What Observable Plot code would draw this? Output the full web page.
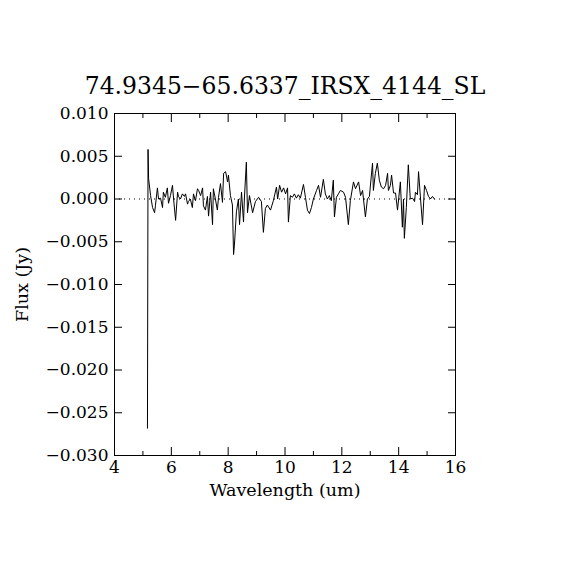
<!DOCTYPE html>
<html>
<head>
<meta charset="utf-8">
<script src="https://cdn.jsdelivr.net/npm/d3@7"></script>
<script src="https://cdn.jsdelivr.net/npm/@observablehq/plot@0.6"></script>
<style>
  html, body { margin: 0; padding: 0; background: white; }
</style>
</head>
<body>
<div id="chart"></div>
<script>
const titleText = "74.9345\u221265.6337_IRSX_4144_SL";
const xLabel = "Wavelength (um)";
const yLabel = "Flux (Jy)";

const xMajorTicks = [4, 6, 8, 10, 12, 14, 16];
const xMinorTicks = [5, 7, 9, 11, 13, 15];
const yTicks = [0.010, 0.005, 0.000, -0.005, -0.010, -0.015, -0.020, -0.025, -0.030];

const wavelength = [
  5.16, 5.18, 5.20, 5.27, 5.34, 5.41, 5.44, 5.51, 5.55, 5.62,
  5.69, 5.72, 5.79, 5.86, 5.90, 5.97, 6.04, 6.08, 6.15, 6.22,
  6.25, 6.32, 6.39, 6.46, 6.50, 6.57, 6.60, 6.67, 6.74, 6.78,
  6.85, 6.92, 6.96, 7.03, 7.10, 7.13, 7.20, 7.27, 7.31, 7.38,
  7.45, 7.48, 7.55, 7.62, 7.66, 7.73, 7.80, 7.84, 7.91, 7.98,
  8.01, 8.08, 8.15, 8.19, 8.22, 8.29, 8.36, 8.40, 8.47, 8.54,
  8.57, 8.64, 8.68, 8.75, 8.86, 8.96, 9.07, 9.17, 9.24, 9.31,
  9.38, 9.49, 9.59, 9.70, 9.74, 9.81, 9.88, 9.95, 10.02, 10.09,
  10.12, 10.19, 10.26, 10.33, 10.40, 10.47, 10.54, 10.65, 10.72, 10.79,
  10.86, 10.93, 11.00, 11.11, 11.18, 11.25, 11.35, 11.42, 11.49, 11.56,
  11.63, 11.70, 11.74, 11.81, 11.88, 11.95, 12.06, 12.13, 12.23, 12.30,
  12.41, 12.48, 12.59, 12.66, 12.73, 12.83, 12.90, 12.97, 13.08, 13.11,
  13.18, 13.25, 13.32, 13.39, 13.47, 13.54, 13.61, 13.64, 13.71, 13.75,
  13.82, 13.89, 13.96, 14.06, 14.13, 14.17, 14.20, 14.27, 14.34, 14.41,
  14.49, 14.56, 14.59, 14.66, 14.70, 14.77, 14.84, 14.91, 14.98, 15.05,
  15.12, 15.19, 15.26
];

const flux = [
  -0.0268, 0.0058, 0.0024, 0.0004, -0.0010, -0.0016, -0.0008, 0.0013, 0.0000, 0.0001,
  -0.0010, 0.0008, 0.0002, 0.0013, -0.0005, 0.0004, 0.0016, 0.0000, -0.0025, 0.0008,
  0.0003, 0.0000, 0.0006, 0.0003, 0.0006, -0.0006, -0.0003, 0.0000, -0.0010, 0.0006,
  -0.0002, 0.0012, 0.0010, 0.0004, 0.0013, -0.0008, -0.0013, 0.0003, -0.0020, 0.0008,
  -0.0030, 0.0012, 0.0000, -0.0013, 0.0002, 0.0018, -0.0004, 0.0030, 0.0032, 0.0020,
  0.0028, 0.0004, -0.0007, -0.0065, -0.0054, -0.0015, 0.0000, -0.0030, 0.0008, -0.0027,
  0.0000, 0.0043, -0.0016, 0.0004, -0.0016, -0.0003, 0.0002, -0.0003, -0.0039, -0.0011,
  -0.0007, -0.0013, -0.0002, 0.0014, 0.0000, 0.0016, 0.0008, 0.0013, 0.0006, 0.0013,
  -0.0027, 0.0004, 0.0002, 0.0006, 0.0001, 0.0005, 0.0001, 0.0017, 0.0002, -0.0013,
  -0.0017, -0.0010, 0.0000, 0.0010, 0.0016, 0.0002, 0.0023, 0.0006, 0.0000, 0.0004,
  -0.0002, 0.0022, -0.0021, 0.0002, 0.0006, 0.0010, 0.0008, 0.0002, -0.0030, -0.0002,
  0.0020, 0.0012, 0.0020, 0.0004, 0.0010, -0.0021, 0.0000, 0.0003, 0.0042, 0.0010,
  0.0030, 0.0042, 0.0022, 0.0014, 0.0012, 0.0016, 0.0030, 0.0010, 0.0016, 0.0028,
  0.0007, 0.0007, -0.0013, 0.0020, -0.0033, 0.0000, -0.0046, -0.0010, 0.0040, 0.0000,
  0.0001, -0.0003, 0.0008, 0.0005, 0.0032, 0.0000, -0.0030, 0.0016, 0.0010, 0.0003,
  0.0000, 0.0003, 0.0000
];

const data = wavelength.map((w, i) => ({w, f: flux[i]}));
const fmt = d3.format(".3f");
const blank = () => "";

const chart = Plot.plot({
  width: 570,
  height: 570,
  marginLeft: 114,
  marginRight: 115,
  marginTop: 113,
  marginBottom: 115,
  style: {fontFamily: "'DejaVu Serif', serif", fontSize: "16px", background: "white", color: "black"},
  x: {domain: [4, 16]},
  y: {domain: [-0.030, 0.010]},
  marks: [
    Plot.ruleY([0], {stroke: "black", strokeWidth: 1, strokeDasharray: "1,4"}),
    Plot.line(data, {x: "w", y: "f", stroke: "black", strokeWidth: 1}),
    Plot.frame({stroke: "black", strokeWidth: 1}),
    Plot.axisX(xMajorTicks, {anchor: "bottom", tickSize: -8, tickPadding: 13, tickFormat: d => String(d), label: null, fontSize: 17}),
    Plot.axisX(xMinorTicks, {anchor: "bottom", tickSize: -4, tickFormat: blank, label: null}),
    Plot.axisX(xMajorTicks, {anchor: "top", tickSize: -8, tickFormat: blank, label: null}),
    Plot.axisX(xMinorTicks, {anchor: "top", tickSize: -4, tickFormat: blank, label: null}),
    Plot.axisY(yTicks, {anchor: "left", tickSize: -8, tickPadding: 14, tickFormat: fmt, label: null, fontSize: 17}),
    Plot.axisY(yTicks, {anchor: "right", tickSize: -8, tickFormat: blank, label: null}),
    Plot.text([titleText], {frameAnchor: "top", dy: -36, fontSize: 23.5, text: d => d}),
    Plot.text([xLabel], {frameAnchor: "bottom", dy: 40, fontSize: 17.5, text: d => d}),
    Plot.text([yLabel], {frameAnchor: "left", dx: -92, rotate: -90, textAnchor: "middle", fontSize: 17.5, text: d => d})
  ]
});
document.getElementById("chart").appendChild(chart);
</script>
</body>
</html>
